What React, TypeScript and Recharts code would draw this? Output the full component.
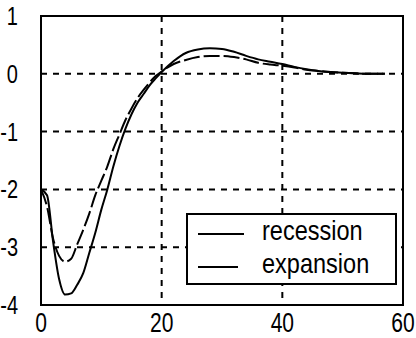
import { LineChart, Line, XAxis, YAxis, CartesianGrid, ReferenceArea } from 'recharts';

const months = [0, 1, 2, 3, 4, 5, 6, 7, 8, 9, 10, 11, 12, 13, 14, 15, 16, 17, 18, 19, 20, 22, 24, 26, 28, 30, 32, 34, 36, 38, 40, 42, 44, 46, 48, 50, 52, 54, 56, 57];

const recession = [-2.0, -2.1, -2.9, -3.55, -3.82, -3.8, -3.65, -3.45, -3.1, -2.75, -2.35, -2.0, -1.6, -1.25, -0.95, -0.7, -0.5, -0.35, -0.2, -0.08, 0.03, 0.22, 0.36, 0.42, 0.44, 0.43, 0.38, 0.31, 0.25, 0.21, 0.17, 0.12, 0.08, 0.05, 0.03, 0.02, 0.01, 0.0, 0.0, 0.0];

const expansion = [-2.0, -2.3, -2.85, -3.15, -3.25, -3.2, -2.95, -2.7, -2.42, -2.1, -1.85, -1.6, -1.3, -1.05, -0.8, -0.6, -0.42, -0.28, -0.15, -0.04, 0.04, 0.17, 0.24, 0.29, 0.31, 0.31, 0.29, 0.25, 0.19, 0.16, 0.14, 0.11, 0.07, 0.05, 0.03, 0.02, 0.01, 0.0, 0.0, 0.0];

const xTicks = [0, 20, 40, 60];
const yTicks = [-4, -3, -2, -1, 0, 1];
const seriesNames = ['recession', 'expansion'];

const data = months.map((m, i) => ({ m, recession: recession[i], expansion: expansion[i] }));

const FONT = '"Liberation Sans", Arial, sans-serif';

// the original font is a narrow one, so squeeze Liberation Sans horizontally
const XTick = ({ x, y, payload }: any) => (
  <g transform={`translate(${x},${y + 19}) scale(0.78,1)`}>
    <text x={0} y={0} textAnchor="middle" fontFamily={FONT} fontSize={27} fill="#000">
      {payload.value}
    </text>
  </g>
);

const YTick = ({ x, y, payload }: any) => (
  <g transform={`translate(${x - 15},${y + 9}) scale(0.8,1)`}>
    <text x={0} y={0} textAnchor="end" fontFamily={FONT} fontSize={25} fill="#000">
      {payload.value}
    </text>
  </g>
);

const LegendBox = () => (
  <div
    style={{
      position: 'absolute',
      left: 186,
      top: 213,
      width: 211,
      height: 72,
      border: '2px solid #000',
      background: '#fff',
      boxSizing: 'border-box',
      fontFamily: FONT,
      fontSize: 28,
      paddingTop: 2,
    }}
  >
    {seriesNames.map((name, i) => (
      <div key={name} style={{ display: 'flex', alignItems: 'center', height: 33 }}>
        <svg width={64} height={10} style={{ marginLeft: 10, flex: 'none' }}>
          <line x1={0} y1={5} x2={i === 0 ? 46 : 40} y2={5} stroke="#000" strokeWidth={2} />
        </svg>
        <span
          style={{
            display: 'inline-block',
            transform: 'scaleX(0.84)',
            transformOrigin: 'left center',
            whiteSpace: 'nowrap',
            marginTop: -6,
          }}
        >
          {name}
        </span>
      </div>
    ))}
  </div>
);

export default function App() {
  return (
    <div style={{ position: 'absolute', left: 0, top: 0, width: 416, height: 338, background: '#fff' }}>
      <LineChart width={416} height={338} data={data} margin={{ top: 16, right: 13, left: 0, bottom: 0 }}>
        <CartesianGrid stroke="#000" strokeWidth={2} strokeDasharray="6 6" />
        <XAxis
          dataKey="m"
          type="number"
          domain={[0, 60]}
          ticks={xTicks}
          height={33}
          axisLine={false}
          tickLine={false}
          tick={<XTick />}
        />
        <YAxis
          type="number"
          domain={[-4, 1]}
          ticks={yTicks}
          width={41}
          axisLine={false}
          tickLine={false}
          tick={<YTick />}
        />
        <Line type="monotone" dataKey="recession" stroke="#000" strokeWidth={2} dot={false} isAnimationActive={false} />
        <Line
          type="monotone"
          dataKey="expansion"
          stroke="#000"
          strokeWidth={2}
          strokeDasharray="16 4"
          dot={false}
          isAnimationActive={false}
        />
        <ReferenceArea x1={0} x2={60} y1={-4} y2={1} fill="none" stroke="#000" strokeWidth={2} ifOverflow="visible" />
      </LineChart>
      <LegendBox />
    </div>
  );
}
